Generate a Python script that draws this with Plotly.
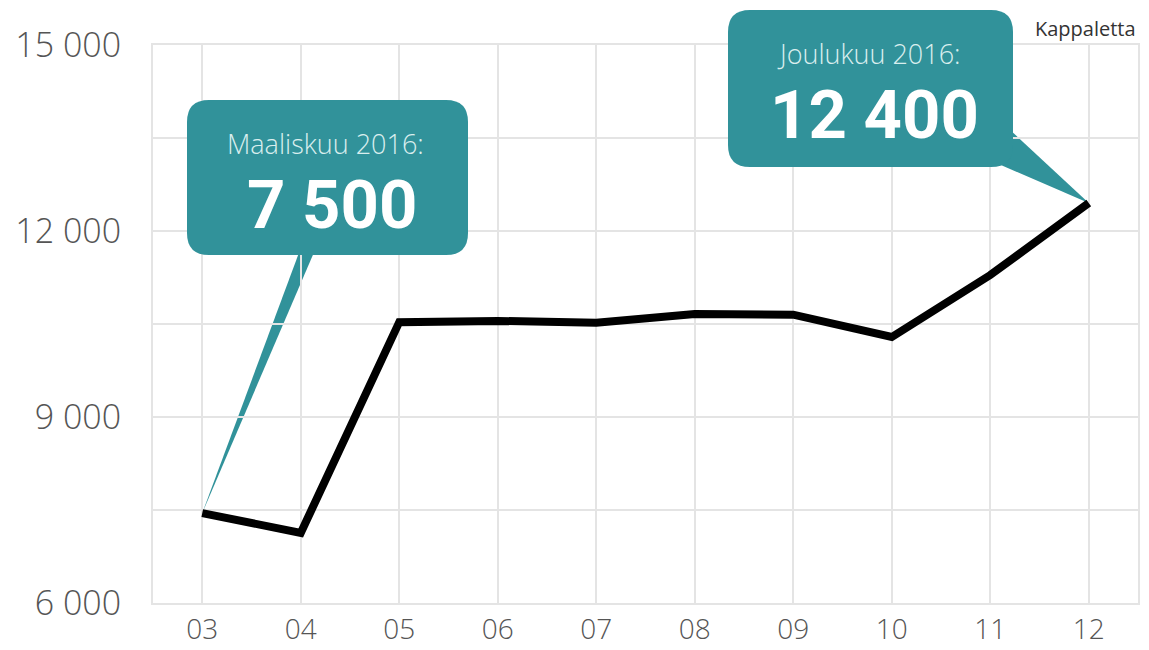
import plotly.graph_objects as go

# ---- data ----
months = ["03", "04", "05", "06", "07", "08", "09", "10", "11", "12"]
values = [7450, 7130, 10530, 10550, 10520, 10660, 10650, 10290, 11290, 12450]
y_tickvals = [6000, 9000, 12000, 15000]
y_ticktext = ["6 000", "9 000", "12 000", "15 000"]
y_minor = [7500, 10500, 13500]
callout_titles = ["Maaliskuu 2016:", "Joulukuu 2016:"]
callout_values = ["7 500", "12 400"]
callout_idx = [0, 9]
unit_label = "Kappaletta"

# ---- layout constants ----
FW, FH = 1149, 650
L, R, T, B = 153, 11, 45, 47
W, H = FW - L - R, FH - T - B
XR = [-0.5, len(months) - 0.5]
YR = [6000, 15000]
TEAL = "#31929a"
GRID = "#e4e4e4"


def ppx(px):
    return (px - L) / W


def ppy(py):
    return (FH - B - py) / H


def dx(i):
    return (i - XR[0]) / (XR[1] - XR[0])


def dy(v):
    return (v - YR[0]) / (YR[1] - YR[0])


def rounded_rect(x0p, y0p, x1p, y1p, r):
    # pixel coords (y downwards) -> paper path
    a, b, c, d = ppx(x0p), ppy(y1p), ppx(x1p), ppy(y0p)  # left, bottom, right, top
    rx, ry = r / W, r / H
    return (f"M {a+rx},{d} L {c-rx},{d} Q {c},{d} {c},{d-ry} "
            f"L {c},{b+ry} Q {c},{b} {c-rx},{b} L {a+rx},{b} "
            f"Q {a},{b} {a},{b+ry} L {a},{d-ry} Q {a},{d} {a+rx},{d} Z")


fig = go.Figure()
fig.add_trace(go.Scatter(
    x=list(range(len(months))), y=values, mode="lines",
    line=dict(color="black", width=8), hoverinfo="skip", showlegend=False,
))

# callout boxes (pixel layout) and pointers to data points
boxes = [(187, 100, 468, 255), (728, 10, 1013, 167)]
pointer_bases = [((300, 250), (315, 250)), ((1008, 128), (994, 162))]
shapes = []
for k in range(2):
    i = callout_idx[k]
    tx, ty = dx(i), dy(values[i])
    (bx1, by1), (bx2, by2) = pointer_bases[k]
    shapes.append(dict(
        type="path", xref="paper", yref="paper", layer="between",
        path=f"M {ppx(bx1)},{ppy(by1)} L {tx},{ty} L {ppx(bx2)},{ppy(by2)} Z",
        fillcolor=TEAL, line=dict(width=0),
    ))
    x0, y0, x1, y1 = boxes[k]
    shapes.append(dict(
        type="path", xref="paper", yref="paper", layer="above",
        path=rounded_rect(x0, y0, x1, y1, 22),
        fillcolor=TEAL, line=dict(width=0),
    ))

annotations = []
title_y = [143, 54]
value_y = [205, 115]
for k in range(2):
    x0, y0, x1, y1 = boxes[k]
    cx = (x0 + x1) / 2
    annotations.append(dict(
        x=ppx(cx - 2), y=ppy(title_y[k]), xref="paper", yref="paper",
        text=callout_titles[k], showarrow=False, xanchor="center", yanchor="middle",
        font=dict(family="Open Sans", size=27, color="#d9eeee", weight=300),
    ))
    annotations.append(dict(
        x=ppx(cx + 4), y=ppy(value_y[k]), xref="paper", yref="paper",
        text=callout_values[k], showarrow=False, xanchor="center", yanchor="middle",
        font=dict(family="Roboto", size=67, color="white", weight=700),
    ))
annotations.append(dict(
    x=1.0, y=ppy(28), xref="paper", yref="paper", text=unit_label,
    showarrow=False, xanchor="right", yanchor="middle",
    font=dict(family="Open Sans", size=20, color="#333333", weight=500),
))

fig.update_layout(
    width=FW, height=FH,
    margin=dict(l=L, r=R, t=T, b=B, autoexpand=False),
    paper_bgcolor="white", plot_bgcolor="white",
    shapes=shapes, annotations=annotations,
    xaxis=dict(
        range=XR, tickvals=list(range(len(months))), ticktext=months,
        showgrid=True, gridcolor=GRID, gridwidth=2, zeroline=False,
        showline=True, linecolor=GRID, linewidth=2, mirror=True,
        ticks="", ticklabelstandoff=0, automargin=False,
        tickfont=dict(family="Open Sans", size=28, color="#555555", weight=300),
        fixedrange=True,
    ),
    yaxis=dict(
        range=YR, tickvals=y_tickvals, ticktext=y_ticktext,
        showgrid=True, gridcolor=GRID, gridwidth=2, zeroline=False,
        showline=True, linecolor=GRID, linewidth=2, mirror=True,
        minor=dict(tickvals=y_minor, showgrid=True, gridcolor=GRID, gridwidth=2, ticks=""),
        ticks="", ticklabelstandoff=23, automargin=False,
        tickfont=dict(family="Open Sans", size=34, color="#555555", weight=300),
        fixedrange=True,
    ),
)

fig.write_html(
    "out.html",
    config={"displayModeBar": False},
    post_script="document.body.style.margin='0';document.body.style.overflow='hidden';",
)
